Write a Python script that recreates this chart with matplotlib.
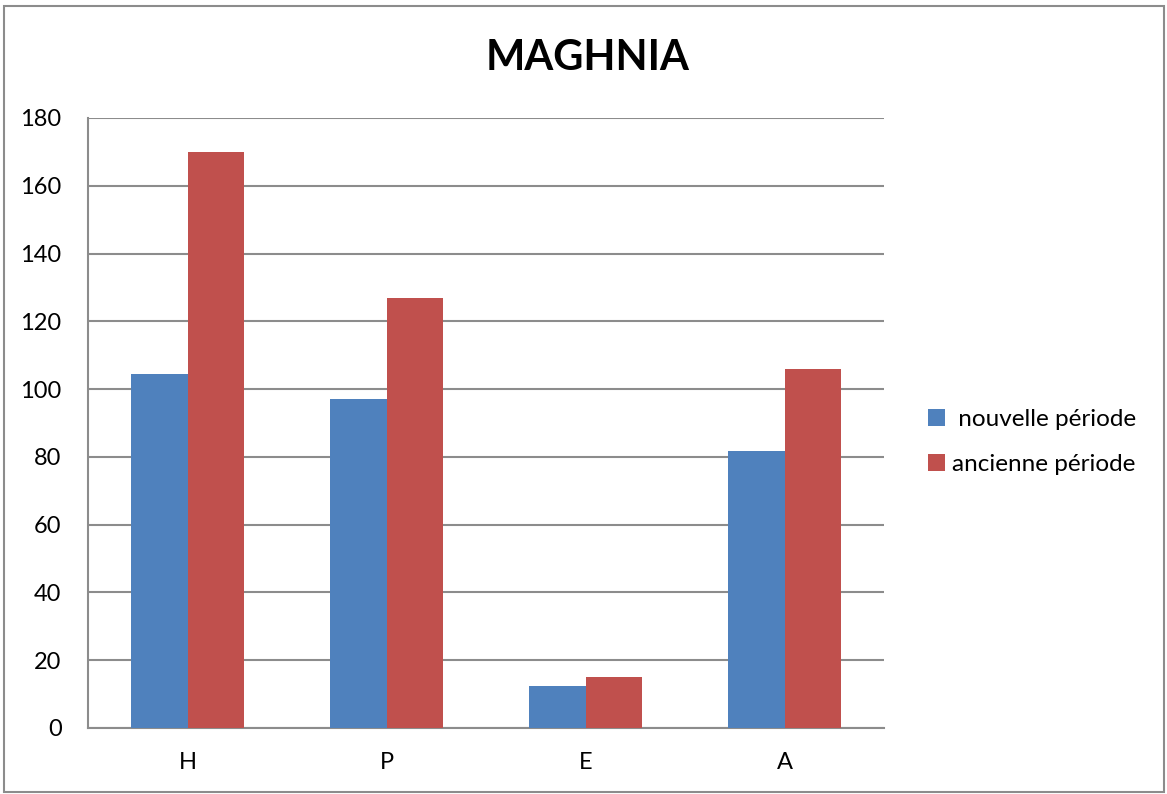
import matplotlib.pyplot as plt
import matplotlib.patches as patches
import numpy as np

categories = ['H', 'P', 'E', 'A']
nouvelle = [104.5, 97.2, 12.5, 81.8]
ancienne = [170, 127, 15, 106]
series_names = ['nouvelle période', 'ancienne période']

blue = '#4f81bd'
red = '#c0504d'
grid_col = '#8c8c8c'

plt.rcParams['font.family'] = ['Lato', 'DejaVu Sans']

fig = plt.figure(figsize=(11.67, 7.94), dpi=100)
ax = fig.add_axes([88 / 1167, 1 - 728 / 794, (884 - 88) / 1167, (728 - 118) / 794])

x = np.arange(len(categories))
w = 0.285
ax.bar(x - w / 2, nouvelle, w, color=blue, label=' ' + series_names[0], zorder=3)
ax.bar(x + w / 2, ancienne, w, color=red, label=series_names[1], zorder=3)

ax.set_xlim(-0.5, len(categories) - 0.5)
ax.set_ylim(0, 180)
ax.set_yticks(range(0, 181, 20))
ax.set_xticks(x)
ax.set_xticklabels(categories)
ax.tick_params(axis='both', length=0, labelsize=17, colors='black')
ax.tick_params(axis='y', pad=19)
ax.tick_params(axis='x', pad=17)
ax.yaxis.grid(True, color=grid_col, linewidth=1.5, zorder=0)
ax.set_axisbelow(True)
for side in ['top', 'right']:
    ax.spines[side].set_visible(False)
for side in ['left', 'bottom']:
    ax.spines[side].set_color(grid_col)
    ax.spines[side].set_linewidth(1.5)

fig.text(588 / 1167, 1 - 58 / 794, 'MAGHNIA', ha='center', va='center',
         fontsize=30, fontweight='bold')

ax.legend(loc='center left', bbox_to_anchor=(906 / 1167, 1 - 442 / 794),
          bbox_transform=fig.transFigure, frameon=False, fontsize=17.5,
          handlelength=0.7, handleheight=0.7, handletextpad=0.3, labelspacing=1.0)

fig.patches.append(patches.Rectangle((4 / 1167, 2 / 794), 1160 / 1167, 786 / 794,
                                     transform=fig.transFigure, fill=False,
                                     edgecolor='#8c8c8c', linewidth=1.5))

fig.savefig('out.png', dpi=100)
